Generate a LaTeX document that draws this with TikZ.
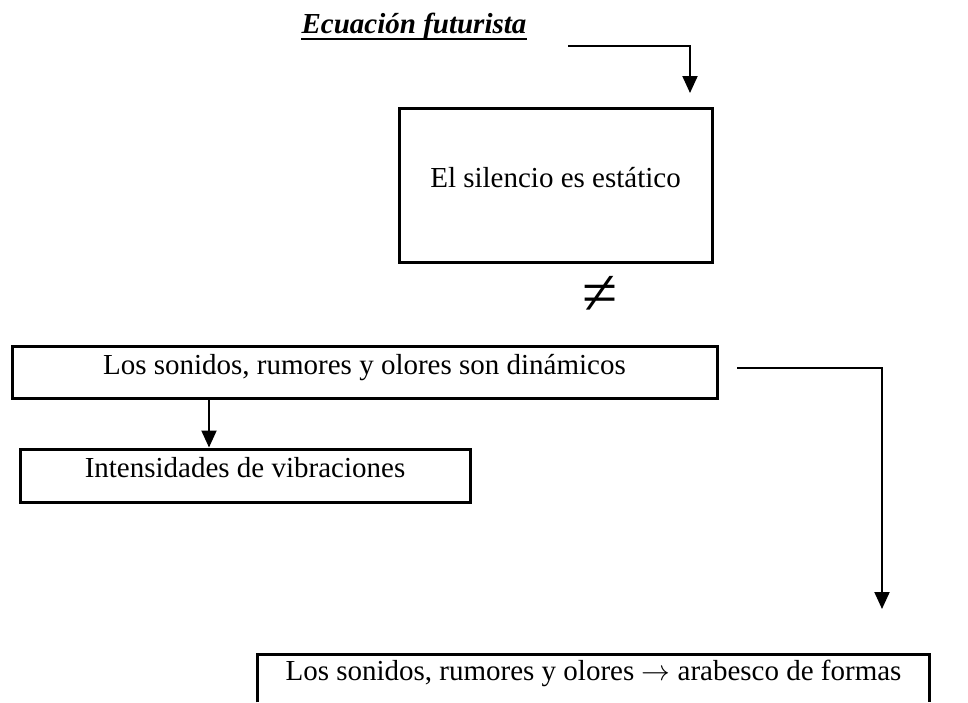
\documentclass[tikz,border=0pt]{standalone}
\usepackage{fontspec}
\setmainfont{Liberation Serif}
\usetikzlibrary{arrows.meta}

\begin{document}
\begin{tikzpicture}[x=0.5pt,y=-0.5pt,
  font=\fontsize{14.5}{17}\selectfont,
  caja/.style={draw, line width=1.5pt, inner sep=0pt, text height=10pt, text depth=8pt},
  flecha/.style={line width=1pt, -{Triangle[length=8.5pt,width=7.5pt]}}]
\useasboundingbox (0,0) rectangle (968,702);

\node[inner sep=0pt, anchor=base, font=\fontsize{14.5}{17}\selectfont\bfseries\itshape] (titulo) at (414,33) {Ecuación futurista};
\draw[line width=1pt] ([yshift=-3pt]titulo.base west) -- ([yshift=-3pt]titulo.base east);

\node[caja, minimum width=156.5pt, minimum height=77pt] (silencio) at (555.5,185) {El silencio es estático};
\node[font=\fontsize{32}{36}\selectfont, inner sep=0pt] (distinto) at (600,295) {≠};
\node[caja, minimum width=352.5pt, minimum height=26pt] (sonidos) at (364.5,372) {Los sonidos, rumores y olores son dinámicos};
\node[caja, minimum width=225pt, minimum height=26.5pt] (intens) at (245,475.5) {Intensidades de vibraciones};
\node[inner sep=0pt, text height=10pt, text depth=8pt, minimum width=335.5pt, minimum height=23.5pt] (arabesco) at (593.5,678.5) {Los sonidos, rumores y olores $\rightarrow$ arabesco de formas};
\draw[line width=1.5pt] (arabesco.south west) |- (arabesco.north east) -- (arabesco.south east);

\coordinate (e1) at (568,46);
\coordinate (p1) at (690,93);
\draw[flecha] (e1) -| (p1);
\coordinate (x1) at (209,0);
\draw[flecha] (sonidos.south -| x1) -- (intens.north -| x1);
\coordinate (e2) at (737,368);
\coordinate (p2) at (882,609);
\draw[flecha] (e2) -| (p2);
\end{tikzpicture}
\end{document}
